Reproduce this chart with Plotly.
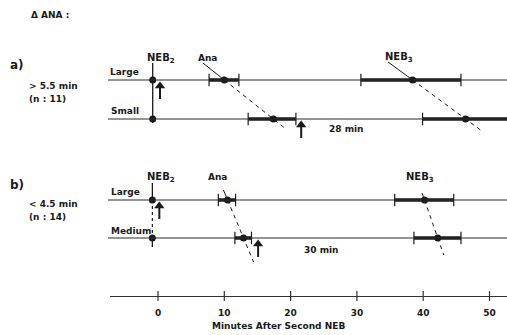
import plotly.graph_objects as go

# ---------------- data (minutes after second NEB) ----------------
panels = ["a", "a", "b", "b"]
row_labels = ["Large", "Small", "Large", "Medium"]
neb2_time = [-0.8, -0.8, -0.85, -0.85]
ana_mean = [10.0, 17.4, 10.5, 12.9]
ana_low = [7.7, 13.6, 9.1, 11.6]
ana_high = [12.2, 20.8, 11.7, 14.1]
neb3_mean = [38.4, 46.4, 40.2, 42.2]
neb3_low = [30.6, 39.9, 35.7, 38.6]
neb3_high = [45.7, 56.0, 44.6, 45.7]
arrow_time = [0.3, 21.6, 0.2, 15.1]
interval_labels = ["28 min", "30 min"]
group_titles = ["a)", "b)"]
group_criteria = ["> 5.5 min", "< 4.5 min"]
group_counts = ["(n : 11)", "(n : 14)"]
tick_vals = [0, 10, 20, 30, 40, 50]
tick_text = ["0", "10", "20", "30", "40", "50"]

# ---------------- layout constants (pixels / positions) ----------------
W, H = 507, 335
ML, MR, MT, MB = 110, 0, 0, 39
PW, PH = W - ML - MR, H - MT - MB
X_RANGE = [-7.24, 52.64]
ROW_Y = [80, 119, 200, 238]
INTERVAL_X = [28.5, 24.7]
INTERVAL_Y = [129, 250]
FONT = "DejaVu Sans"
INK = "#1a1a1a"


def px(xpix):
    return (xpix - ML) / PW


def ypaper(ypix):
    return (PH - (ypix - MT)) / PH


fig = go.Figure()

# row baselines
shapes = []
for ry in ROW_Y:
    shapes.append(dict(type="line", xref="paper", yref="y", x0=px(108), x1=1,
                       y0=ry, y1=ry, line=dict(color="#2a2a2a", width=1)))

# NEB2 vertical connectors
fig.add_trace(go.Scatter(x=[neb2_time[0]] * 2, y=[63, 123], mode="lines",
                         line=dict(color=INK, width=1.3), hoverinfo="skip"))
fig.add_trace(go.Scatter(x=[neb2_time[2]] * 2, y=[183, ROW_Y[2]], mode="lines",
                         line=dict(color=INK, width=1.3), hoverinfo="skip"))
fig.add_trace(go.Scatter(x=[neb2_time[2]] * 2, y=[ROW_Y[2], ROW_Y[3]], mode="lines",
                         line=dict(color=INK, width=1.2, dash="dot"), hoverinfo="skip"))
fig.add_trace(go.Scatter(x=[neb2_time[3]] * 2, y=[ROW_Y[3], 247], mode="lines",
                         line=dict(color=INK, width=1.3), hoverinfo="skip"))

# guide lines (solid from label to upper dot, dashed through lower dot)
GUIDES = [  # (upper row, lower row, means list, top y, extension px)
    (0, 1, ana_mean, 63, 10),
    (0, 1, neb3_mean, 62, 12),
    (2, 3, ana_mean, 190, 24),
    (2, 3, neb3_mean, 193, 17),
]
for up, lo, means, top, ext in GUIDES:
    x1, y1 = means[up], ROW_Y[up]
    x2, y2 = means[lo], ROW_Y[lo]
    slope = (x2 - x1) / (y2 - y1)
    xt = x1 - slope * (y1 - top)
    xb = x2 + slope * ext
    fig.add_trace(go.Scatter(x=[xt, x1], y=[top, y1], mode="lines",
                             line=dict(color=INK, width=1), hoverinfo="skip"))
    fig.add_trace(go.Scatter(x=[x1, xb], y=[y1, y2 + ext], mode="lines",
                             line=dict(color=INK, width=1, dash="4px,4px"), hoverinfo="skip"))

# range bars
for i, ry in enumerate(ROW_Y):
    for lo_v, hi_v, m in ((ana_low[i], ana_high[i], ana_mean[i]),
                          (neb3_low[i], neb3_high[i], neb3_mean[i])):
        fig.add_trace(go.Scatter(x=[lo_v, hi_v], y=[ry, ry], mode="lines",
                                 line=dict(color=INK, width=3.5), hoverinfo="skip"))
        fig.add_trace(go.Scatter(x=[lo_v, hi_v], y=[ry, ry], mode="markers",
                                 marker=dict(symbol="line-ns", size=9,
                                             line=dict(color=INK, width=1.2)),
                                 hoverinfo="skip"))
        fig.add_trace(go.Scatter(x=[m], y=[ry], mode="markers",
                                 marker=dict(symbol="circle", size=7, color=INK),
                                 hoverinfo="skip"))

# NEB2 dots
fig.add_trace(go.Scatter(x=neb2_time, y=ROW_Y, mode="markers",
                         marker=dict(symbol="circle", size=7, color=INK),
                         hoverinfo="skip"))

# upward arrows (shaft + head)
for i, ry in enumerate(ROW_Y):
    fig.add_trace(go.Scatter(x=[arrow_time[i]] * 2, y=[ry + 8, ry + 19], mode="lines",
                             line=dict(color=INK, width=2), hoverinfo="skip"))
    fig.add_trace(go.Scatter(x=[arrow_time[i]], y=[ry + 6], mode="markers",
                             marker=dict(symbol="triangle-up", size=9, color=INK),
                             hoverinfo="skip"))

# cross ticks on the time axis
fig.add_trace(go.Scatter(x=tick_vals, y=[PH] * len(tick_vals), mode="markers",
                         marker=dict(symbol="line-ns", size=7,
                                     line=dict(color="#333", width=1.2)),
                         cliponaxis=False, hoverinfo="skip"))

annotations = []


def txt(text, x, y, size=9, xref="paper", yref="y", anchor="center", bold=True):
    annotations.append(dict(text=text, x=x, y=y, xref=xref, yref=yref,
                            xanchor=anchor, yanchor="middle", showarrow=False,
                            font=dict(family=FONT, size=size, color=INK,
                                      weight="bold" if bold else "normal")))


txt("Δ ANA :", px(29), 15, anchor="left")
# group labels
txt(group_titles[0], px(8), 65, size=12, anchor="left")
txt(group_criteria[0], px(27), 86, anchor="left")
txt(group_counts[0], px(27), 99, anchor="left")
txt(group_titles[1], px(8), 185, size=12, anchor="left")
txt(group_criteria[1], px(27), 204, anchor="left")
txt(group_counts[1], px(27), 217, anchor="left")
# row labels
txt(row_labels[0], px(108), 72, anchor="left")
txt(row_labels[1], px(109), 111, anchor="left")
txt(row_labels[2], px(109), 192, anchor="left")
txt(row_labels[3], px(109), 231, anchor="left")
# event labels
txt("NEB<sub>2</sub>", px(161), 58, size=10)
txt("NEB<sub>2</sub>", px(161), 177, size=10)
txt("Ana", px(207), 58)
txt("Ana", px(217), 177)
txt("NEB<sub>3</sub>", px(399), 57, size=10)
txt("NEB<sub>3</sub>", px(420), 177, size=10)
# interval labels
txt(interval_labels[0], INTERVAL_X[0], INTERVAL_Y[0], xref="x")
txt(interval_labels[1], INTERVAL_X[1], INTERVAL_Y[1], xref="x")
# axis title
txt("Minutes After Second NEB", px(278), ypaper(326), yref="paper")

fig.update_layout(
    width=W, height=H,
    margin=dict(l=ML, r=MR, t=MT, b=MB, pad=0),
    paper_bgcolor="white", plot_bgcolor="white",
    showlegend=False,
    shapes=shapes,
    annotations=annotations,
    xaxis=dict(range=X_RANGE, tickvals=tick_vals, ticktext=tick_text,
               showline=True, linecolor="#333", linewidth=1,
               ticks="", showgrid=False, zeroline=False,
               tickfont=dict(family=FONT, size=9, color=INK, weight="bold"),
               ticklabelstandoff=8, fixedrange=True),
    yaxis=dict(range=[PH, 0], visible=False, fixedrange=True),
)

fig.write_html("out.html", config={"displayModeBar": False},
               post_script="document.body.style.margin='0px';")
